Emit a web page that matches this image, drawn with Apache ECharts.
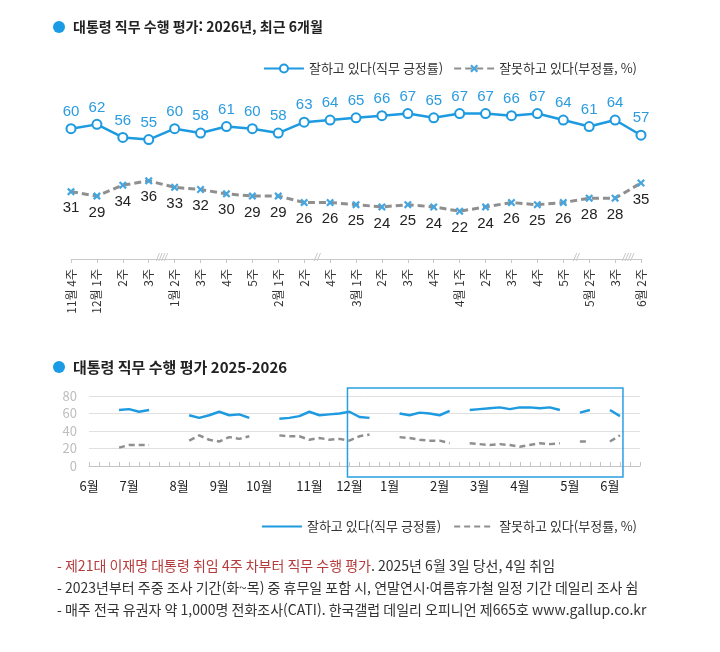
<!DOCTYPE html>
<html lang="ko">
<head>
<meta charset="utf-8" />
<title>대통령 직무 수행 평가</title>
<script src="https://cdn.jsdelivr.net/npm/echarts@6/dist/echarts.min.js"></script>
<style>
  body { margin: 0; background: #fff; }
  #top { width: 720px; height: 340px; }
  #bottom { width: 720px; height: 312px; }
</style>
</head>
<body>
<div id="top"></div>
<div id="bottom"></div>
<script>
// 최근 6개월 (주간)
var weekLabels = ['11월 4주','12월 1주','2주','3주','1월 2주','3주','4주','5주','2월 1주','2주','4주',
  '3월 1주','2주','3주','4주','4월 1주','2주','3주','4주','5주','5월 2주','3주','6월 2주'];
var approve = [60,62,56,55,60,58,61,60,58,63,64,65,66,67,65,67,67,66,67,64,61,64,57];
var disapprove = [31,29,34,36,33,32,30,29,29,26,26,25,24,25,24,22,24,26,25,26,28,28,35];
// 축 생략 표시: 이 주 다음에 끊김
var breakAfter = [3, 9, 19, 21];
var breakMarks = ['////', '//', '//', '////'];

// 2025-2026 전체 (주간, 조사 쉰 주는 null)
var months = ['6월','7월','8월','9월','10월','11월','12월','1월','2월','3월','4월','5월','6월'];
var weeksInMonth = [4,5,4,4,5,4,4,5,4,4,5,4,4];
var approveAll = [null,null,null,64,65,62,64,null,null,null,58,55,58,62,58,59,55,null,null,
  54,55,57,62,58,59,60,62,56,55,null,null,60,58,61,60,58,63,null,
  64,65,66,67,65,67,67,66,67,64,null,61,64,null,64,57,null,null];
var disapproveAll = [null,null,null,21,24,24,24,null,null,null,29,35,30,28,33,31,34,null,null,
  35,34,34,30,32,30,31,29,34,36,null,null,33,32,30,29,29,26,null,
  26,25,24,25,24,22,24,26,25,26,null,28,28,null,28,35,null,null];
// 강조 구간 (최근 6개월)
var focusFrom = 26, focusTo = 53;

var FONT = '"Noto Sans CJK KR", "Noto Sans", sans-serif';
var BLUE = '#1d9ae0';
var GRAY = '#8f8f8f';
var NAME1 = '잘하고 있다(직무 긍정률)';
var NAME2 = '잘못하고 있다(부정률, %)';
var crossPath = 'path://M2,0L5,3L8,0L10,2L7,5L10,8L8,10L5,7L2,10L0,8L3,5L0,2Z';

var weeks = [];
months.forEach(function (m, i) {
  for (var w = 1; w <= weeksInMonth[i]; w++) weeks.push(m + ' ' + w + '주');
});

function titleGraphic(text, size) {
  return [
    { type: 'circle', shape: { cx: 59, cy: 27, r: 6 }, style: { fill: '#1a9be6' } },
    { type: 'text', x: 73, y: 27, style: { text: text, fill: '#222', font: 'bold ' + size + 'px ' + FONT, verticalAlign: 'middle' } }
  ];
}

var chart1 = echarts.init(document.getElementById('top'));
chart1.setOption({
  animation: false,
  textStyle: { fontFamily: FONT },
  legend: {
    top: 57, right: 78, itemWidth: 40, itemHeight: 10, itemGap: 10,
    textStyle: { fontSize: 13, color: '#333' },
    data: [NAME1, NAME2]
  },
  grid: { left: 71, right: 79, top: 107, bottom: 81 },
  xAxis: {
    type: 'category', data: weekLabels, boundaryGap: false,
    axisLine: { lineStyle: { color: '#c8c8c8' } },
    axisTick: { length: 4, lineStyle: { color: '#c8c8c8' } },
    axisLabel: { rotate: 90, interval: 0, fontSize: 12, color: '#333', margin: 10 }
  },
  yAxis: { type: 'value', min: 0, max: 70, show: false },
  series: [
    {
      name: NAME1, type: 'line', data: approve,
      symbol: 'emptyCircle', symbolSize: 9,
      lineStyle: { color: BLUE, width: 2.5 },
      itemStyle: { color: BLUE, borderWidth: 2 },
      label: { show: true, position: 'top', distance: 4, color: '#2a9be0', fontSize: 15, fontFamily: 'Liberation Sans' }
    },
    {
      name: NAME2, type: 'line', data: disapprove,
      symbol: crossPath, symbolSize: 8,
      lineStyle: { color: GRAY, width: 3, type: [7, 4] },
      itemStyle: { color: '#46a6df' },
      label: { show: true, position: 'bottom', distance: 5, color: '#222', fontSize: 15, fontFamily: 'Liberation Sans' }
    }
  ]
});

// 축 생략 표시
var marks = breakAfter.map(function (i, k) {
  var a = chart1.convertToPixel({ gridIndex: 0 }, [i, 0]);
  var b = chart1.convertToPixel({ gridIndex: 0 }, [i + 1, 0]);
  return {
    type: 'text', x: (a[0] + b[0]) / 2, y: a[1] - 1,
    style: { text: breakMarks[k], fill: '#bdbdbd', font: 'italic 10px sans-serif', align: 'center', verticalAlign: 'middle' }
  };
});
chart1.setOption({ graphic: titleGraphic('대통령 직무 수행 평가: 2026년, 최근 6개월', 14).concat(marks) });

var chart2 = echarts.init(document.getElementById('bottom'));
var footFont = '14px ' + FONT;
chart2.setOption({
  animation: false,
  textStyle: { fontFamily: FONT },
  legend: {
    top: 175, right: 78, itemWidth: 40, itemHeight: 10, itemGap: 12,
    itemStyle: { opacity: 0 },
    textStyle: { fontSize: 13, color: '#333' },
    data: [NAME1, NAME2]
  },
  grid: { left: 89, right: 80, top: 56, bottom: 186 },
  xAxis: {
    type: 'category', data: weeks, boundaryGap: false,
    axisLine: { lineStyle: { color: '#c4c4c4' } },
    axisTick: { interval: 0, inside: true, length: 4, lineStyle: { color: '#c4c4c4' } },
    axisLabel: {
      fontSize: 13, color: '#222', margin: 14,
      interval: function (idx, val) { return / 1주$/.test(val); },
      formatter: function (val) { return val.split(' ')[0]; }
    }
  },
  yAxis: {
    type: 'value', min: 0, max: 80, interval: 20,
    axisLabel: { fontSize: 13, color: '#bdbdbd', margin: 12 },
    splitLine: { lineStyle: { color: '#e0e0e0' } }
  },
  series: [
    {
      name: NAME1, type: 'line', data: approveAll, symbol: 'none', connectNulls: false,
      lineStyle: { color: BLUE, width: 2.5 }, itemStyle: { color: BLUE }
    },
    {
      name: NAME2, type: 'line', data: disapproveAll, symbol: 'none', connectNulls: false,
      lineStyle: { color: GRAY, width: 2.5, type: [6, 4] }, itemStyle: { color: GRAY }
    }
  ]
});

var p0 = chart2.convertToPixel({ gridIndex: 0 }, [focusFrom, 80]);
var p1 = chart2.convertToPixel({ gridIndex: 0 }, [focusTo, 0]);
chart2.setOption({
  graphic: titleGraphic('대통령 직무 수행 평가 2025-2026', 15).concat([
    {
      type: 'rect', shape: { x: p0[0] - 2, y: p0[1] - 8, width: p1[0] - p0[0] + 5, height: p1[1] - p0[1] + 19 },
      style: { fill: 'none', stroke: '#2a9fe0', lineWidth: 1.5 }, z: 10
    },
    {
      type: 'text', x: 57, y: 226,
      style: {
        text: '{r|- 제21대 이재명 대통령 취임 4주 차부터 직무 수행 평가}{k|. 2025년 6월 3일 당선, 4일 취임}',
        font: footFont, verticalAlign: 'middle',
        rich: { r: { fill: '#b43c3c', font: footFont }, k: { fill: '#333', font: footFont } }
      }
    },
    {
      type: 'text', x: 57, y: 248,
      style: { text: '- 2023년부터 주중 조사 기간(화~목) 중 휴무일 포함 시, 연말연시·여름휴가철 일정 기간 데일리 조사 쉼', fill: '#333', font: footFont, verticalAlign: 'middle' }
    },
    {
      type: 'text', x: 57, y: 270,
      style: { text: '- 매주 전국 유권자 약 1,000명 전화조사(CATI). 한국갤럽 데일리 오피니언 제665호 www.gallup.co.kr', fill: '#333', font: footFont, verticalAlign: 'middle' }
    }
  ])
});
</script>
</body>
</html>
